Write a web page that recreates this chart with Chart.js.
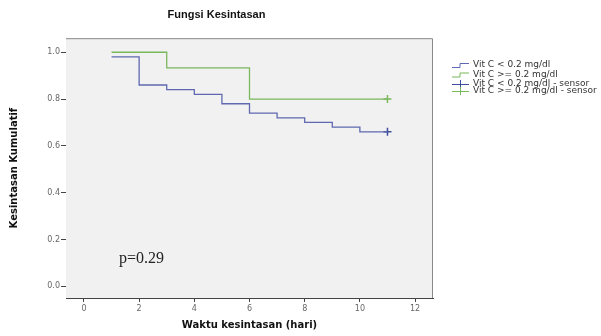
<!DOCTYPE html>
<html>
<head>
<meta charset="utf-8">
<script src="https://cdn.jsdelivr.net/npm/chart.js@4"></script>
<style>
  body { margin: 0; background: #fff; }
</style>
</head>
<body>
<canvas id="kmChart" width="601" height="336"></canvas>
<script>
// Kaplan-Meier steps
const lowTimes = [1, 2, 3, 4, 5, 6, 7, 8, 9, 10, 11];
const lowSurv = [0.98, 0.86, 0.84, 0.82, 0.78, 0.74, 0.72, 0.70, 0.68, 0.66, 0.66];
const highTimes = [1, 3, 6, 11];
const highSurv = [1.0, 0.933, 0.80, 0.80];
const lowCensorTimes = [11];
const lowCensorSurv = [0.66];
const highCensorTimes = [11];
const highCensorSurv = [0.80];

const xTicks = [0, 2, 4, 6, 8, 10, 12];
const yTicks = [0, 0.2, 0.4, 0.6, 0.8, 1.0];
const legendLabels = [
  "Vit C < 0.2 mg/dl",
  "Vit C >= 0.2 mg/dl",
  "Vit C < 0.2 mg/dl - sensor",
  "Vit C >= 0.2 mg/dl - sensor"
];
const pText = "p=0.29";

const blue = "#5f68b0";
const green = "#7bb85c";

function pts(xs, ys) {
  return xs.map((x, i) => ({ x: x, y: ys[i] }));
}

const plotFrame = {
  id: "plotFrame",
  beforeDatasetsDraw(chart) {
    const a = chart.chartArea;
    const ctx = chart.ctx;
    ctx.save();
    ctx.fillStyle = "#f1f1f1";
    ctx.fillRect(a.left, a.top, a.right - a.left, a.bottom - a.top);
    ctx.strokeStyle = "#8a8a8a";
    ctx.lineWidth = 1;
    ctx.beginPath();
    ctx.moveTo(a.left, a.top + 0.5);
    ctx.lineTo(a.right - 0.5, a.top + 0.5);
    ctx.lineTo(a.right - 0.5, a.bottom);
    ctx.stroke();
    ctx.restore();
  },
  afterDraw(chart) {
    const ctx = chart.ctx;
    const a = chart.chartArea;
    const xs = chart.scales.x, ys = chart.scales.y;
    ctx.save();
    // p value
    ctx.fillStyle = "#222";
    ctx.font = "16px 'Liberation Serif'";
    ctx.textBaseline = "alphabetic";
    ctx.fillText(pText, xs.getPixelForValue(1.27), ys.getPixelForValue(0.1));

    // legend
    const x0 = a.right + 19;
    const rows = [65, 74.5, 84, 91];
    const cols = [blue, green, "#3f4c9e", green];
    ctx.font = "9px 'DejaVu Sans'";
    ctx.textBaseline = "middle";
    ctx.lineWidth = 1;
    rows.forEach((y, i) => {
      ctx.strokeStyle = cols[i];
      ctx.beginPath();
      if (i < 2) {
        ctx.moveTo(x0, y + 2.5);
        ctx.lineTo(x0 + 8, y + 2.5);
        ctx.lineTo(x0 + 8, y - 1.5);
        ctx.lineTo(x0 + 17, y - 1.5);
      } else {
        ctx.moveTo(x0, y + 0.5);
        ctx.lineTo(x0 + 17, y + 0.5);
        ctx.moveTo(x0 + 8.5, y - 4);
        ctx.lineTo(x0 + 8.5, y + 4);
      }
      ctx.stroke();
      ctx.fillStyle = "#333";
      ctx.fillText(legendLabels[i], x0 + 21, y);
    });
    ctx.restore();
  }
};

new Chart(document.getElementById("kmChart"), {
  type: "line",
  data: {
    datasets: [
      {
        label: legendLabels[0],
        data: pts(lowTimes, lowSurv),
        borderColor: blue,
        borderWidth: 1.3,
        stepped: true,
        pointRadius: 0,
        fill: false
      },
      {
        label: legendLabels[1],
        data: pts(highTimes, highSurv),
        borderColor: green,
        borderWidth: 1.3,
        stepped: true,
        pointRadius: 0,
        fill: false
      },
      {
        label: legendLabels[2],
        data: pts(lowCensorTimes, lowCensorSurv),
        showLine: false,
        pointStyle: "cross",
        pointRadius: 4,
        pointBorderWidth: 1.5,
        borderColor: "#3f4c9e"
      },
      {
        label: legendLabels[3],
        data: pts(highCensorTimes, highCensorSurv),
        showLine: false,
        pointStyle: "cross",
        pointRadius: 4,
        pointBorderWidth: 1.5,
        borderColor: green
      }
    ]
  },
  options: {
    responsive: false,
    animation: false,
    layout: { padding: { left: 0, right: 168, top: 0, bottom: 0 } },
    plugins: {
      legend: { display: false },
      tooltip: { enabled: false },
      title: {
        display: true,
        text: "Fungsi Kesintasan",
        color: "#111",
        font: { family: "'Liberation Sans'", size: 11, weight: "bold" },
        padding: { top: 8, bottom: 17 }
      }
    },
    scales: {
      x: {
        type: "linear",
        min: -0.65,
        max: 12.65,
        afterBuildTicks: s => { s.ticks = xTicks.map(v => ({ value: v })); },
        afterFit: s => { s.height = 38; },
        grid: { drawOnChartArea: false, drawTicks: true, tickLength: 4, color: "#444" },
        border: { color: "#444", width: 1 },
        ticks: {
          autoSkip: false,
          maxRotation: 0,
          padding: 2,
          color: "#666",
          font: { family: "'DejaVu Sans'", size: 8 },
          callback: v => String(v)
        },
        title: {
          display: true,
          text: "Waktu kesintasan (hari)",
          color: "#111",
          font: { family: "'DejaVu Sans'", size: 10, weight: "bold" },
          padding: { top: 4, bottom: 5 }
        }
      },
      y: {
        min: -0.05,
        max: 1.06,
        afterBuildTicks: s => { s.ticks = yTicks.map(v => ({ value: v })); },
        afterFit: s => { s.width = 66; },
        grid: { drawOnChartArea: false, drawTicks: true, tickLength: 5, color: "#444" },
        border: { color: "#444", width: 1 },
        ticks: {
          padding: 1,
          color: "#666",
          font: { family: "'DejaVu Sans'", size: 8 },
          callback: v => Number(v).toFixed(1)
        },
        title: {
          display: true,
          text: "Kesintasan Kumulatif",
          color: "#111",
          font: { family: "'DejaVu Sans'", size: 10, weight: "bold" },
          padding: { top: 8, bottom: 4 }
        }
      }
    }
  },
  plugins: [plotFrame]
});
</script>
</body>
</html>
